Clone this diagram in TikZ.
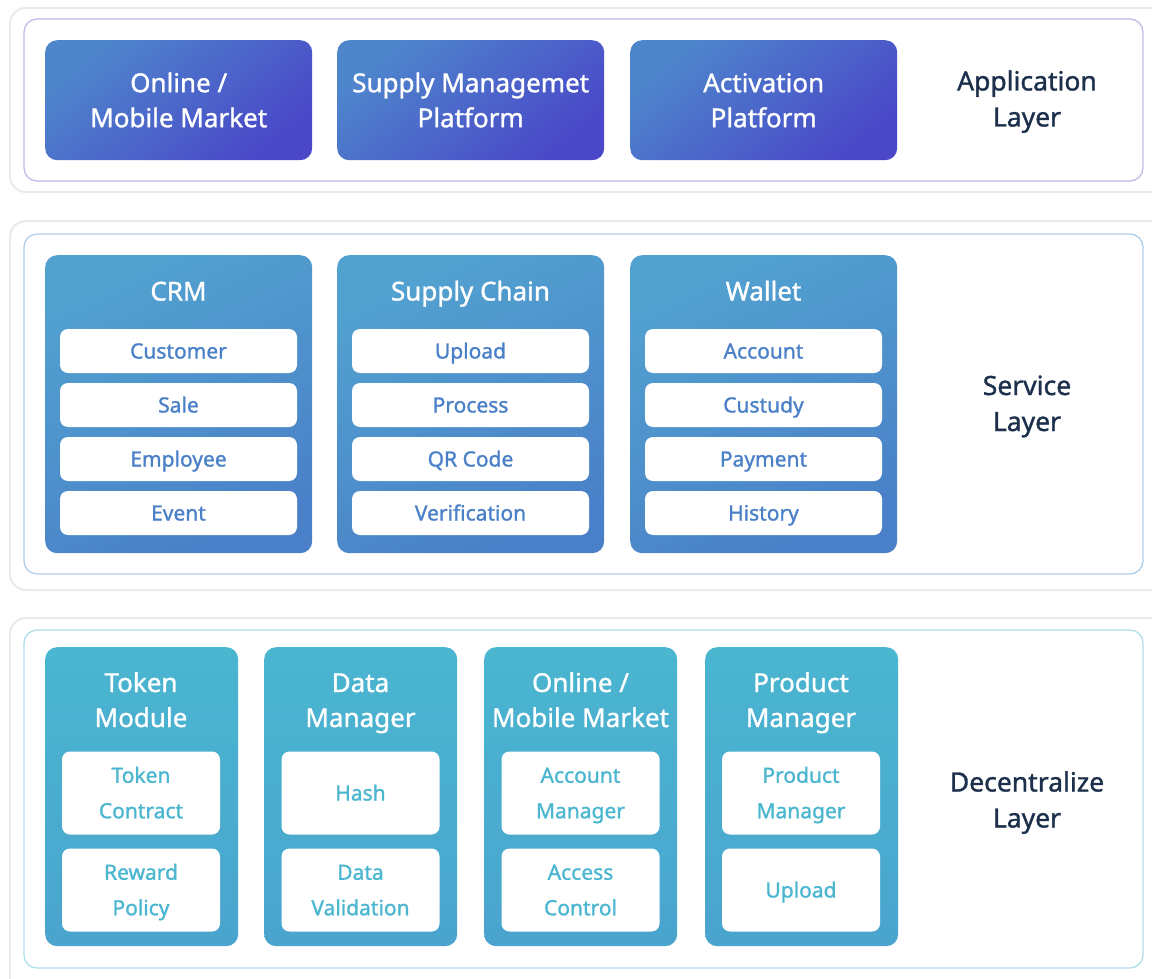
\documentclass[tikz,border=0pt]{standalone}
\usepackage{fontspec}
\setmainfont{Noto Sans}[UprightFeatures={FakeBold=1.2}]
\usetikzlibrary{positioning}

\definecolor{appA}{RGB}{78,134,204}
\definecolor{appB}{RGB}{74,72,200}
\definecolor{srvA}{RGB}{82,162,208}
\definecolor{srvB}{RGB}{74,128,200}
\definecolor{decA}{RGB}{74,182,208}
\definecolor{decB}{RGB}{74,164,206}
\definecolor{layerText}{RGB}{28,48,76}
\definecolor{cardLine}{RGB}{234,234,234}
\definecolor{appLine}{RGB}{190,190,236}
\definecolor{srvLine}{RGB}{178,206,234}
\definecolor{decLine}{RGB}{176,222,234}

\tikzset{
  card/.style={draw=cardLine, line width=2, fill=white, rounded corners=16},
  layerbox/.style={draw=#1, line width=1.3, fill=white, rounded corners=13},
  appmod/.style={rounded corners=12, top color=appA, bottom color=appB, shading angle=40,
    minimum width=267, minimum height=120, anchor=north west},
  srvmod/.style={rounded corners=12, top color=srvA, bottom color=srvB, shading angle=25,
    minimum width=267, minimum height=298, anchor=north west},
  decmod/.style={rounded corners=12, top color=decA, bottom color=decB,
    minimum width=193, minimum height=299, anchor=north west},
  modtitle/.style={text=white, align=center, inner sep=0, text depth=0,
    text height=19, font=\fontsize{26}{35}\selectfont},
  twoline/.style={text height=54},
  srvitem/.style={fill=white, rounded corners=8, minimum width=237, minimum height=44,
    text height=15, text depth=0, text=srvB, font=\fontsize{21}{24}\selectfont},
  decitem/.style={text=decA, align=center, inner sep=0, text height=15, text depth=0,
    font=\fontsize{21}{35.5}\selectfont},
  decbox/.style={fill=white, rounded corners=8, minimum width=158, minimum height=83},
  layerlabel/.style={text=layerText, align=center, inner sep=0, text height=55,
    text depth=0, font=\fontsize{26.5}{36}\selectfont}
}

\begin{document}
\begin{tikzpicture}[x=1pt, y=-1pt]
\useasboundingbox (0,0) rectangle (1152,979);
\clip (0,0) rectangle (1152,979);
\fill[white] (0,0) rectangle (1152,979);

% cards and layer frames
\draw[card] (10,8) rectangle (1170,192);
\draw[layerbox=appLine] (24,19) rectangle (1143,181);
\draw[card] (10,221) rectangle (1170,590);
\draw[layerbox=srvLine] (24,234) rectangle (1143,574);
\draw[card] (10,618) rectangle (1170,1000);
\draw[layerbox=decLine] (24,630) rectangle (1143,968);

% application layer
\node[appmod] (appMarket) at (45,40) {};
\node[appmod] (appSupply) at (337,40) {};
\node[appmod] (appActive) at (630,40) {};
\node[modtitle, twoline] (appMarketText) at (appMarket.center) {Online /\\Mobile Market};
\node[modtitle, twoline] (appSupplyText) at (appSupply.center) {Supply Managemet\\Platform};
\node[modtitle, twoline] (appActiveText) at (appActive.center) {Activation\\Platform};
\node[layerlabel] (appLabel) at (1027,99) {Application\\Layer};

% service layer
\node[srvmod] (crm) at (45,255) {};
\node[srvmod] (chain) at (337,255) {};
\node[srvmod] (wallet) at (630,255) {};
\node[modtitle] (crmTitle) at (178.5,291) {CRM};
\node[modtitle] (chainTitle) at (470.5,291) {Supply Chain};
\node[modtitle] (walletTitle) at (763.5,291) {Wallet};

\foreach \t [count=\i] in {Customer,Sale,Employee,Event}
  \node[srvitem] (crm-\i) at (178.5,{351+54*(\i-1)}) {\t};
\foreach \t [count=\i] in {Upload,Process,QR Code,Verification}
  \node[srvitem] (chain-\i) at (470.5,{351+54*(\i-1)}) {\t};
\foreach \t [count=\i] in {Account,Custudy,Payment,History}
  \node[srvitem] (wallet-\i) at (763.5,{351+54*(\i-1)}) {\t};

\node[layerlabel] (srvLabel) at (1027,403.5) {Service\\Layer};

% decentralize layer
\node[decmod] (token) at (45,647) {};
\node[decmod] (data) at (264,647) {};
\node[decmod] (market) at (484,647) {};
\node[decmod] (product) at (705,647) {};
\node[modtitle, twoline] (tokenTitle) at (141,700) {Token\\Module};
\node[modtitle, twoline] (dataTitle) at (360.5,700) {Data\\Manager};
\node[modtitle, twoline] (marketTitle) at (580.5,700) {Online /\\Mobile Market};
\node[modtitle, twoline] (productTitle) at (801,700) {Product\\Manager};

\foreach \m/\x in {token/141,data/360.5,market/580.5,product/801} {
  \node[decbox] (\m-1) at (\x,793) {};
  \node[decbox] (\m-2) at (\x,890) {};
}
\node[decitem, text height=50.5] at (token-1) {Token\\Contract};
\node[decitem, text height=50.5] at (token-2) {Reward\\Policy};
\node[decitem] at (data-1) {Hash};
\node[decitem, text height=50.5] at (data-2) {Data\\Validation};
\node[decitem, text height=50.5] at (market-1) {Account\\Manager};
\node[decitem, text height=50.5] at (market-2) {Access\\Control};
\node[decitem, text height=50.5] at (product-1) {Product\\Manager};
\node[decitem] at (product-2) {Upload};

\node[layerlabel] (decLabel) at (1027,800) {Decentralize\\Layer};

\end{tikzpicture}
\end{document}
